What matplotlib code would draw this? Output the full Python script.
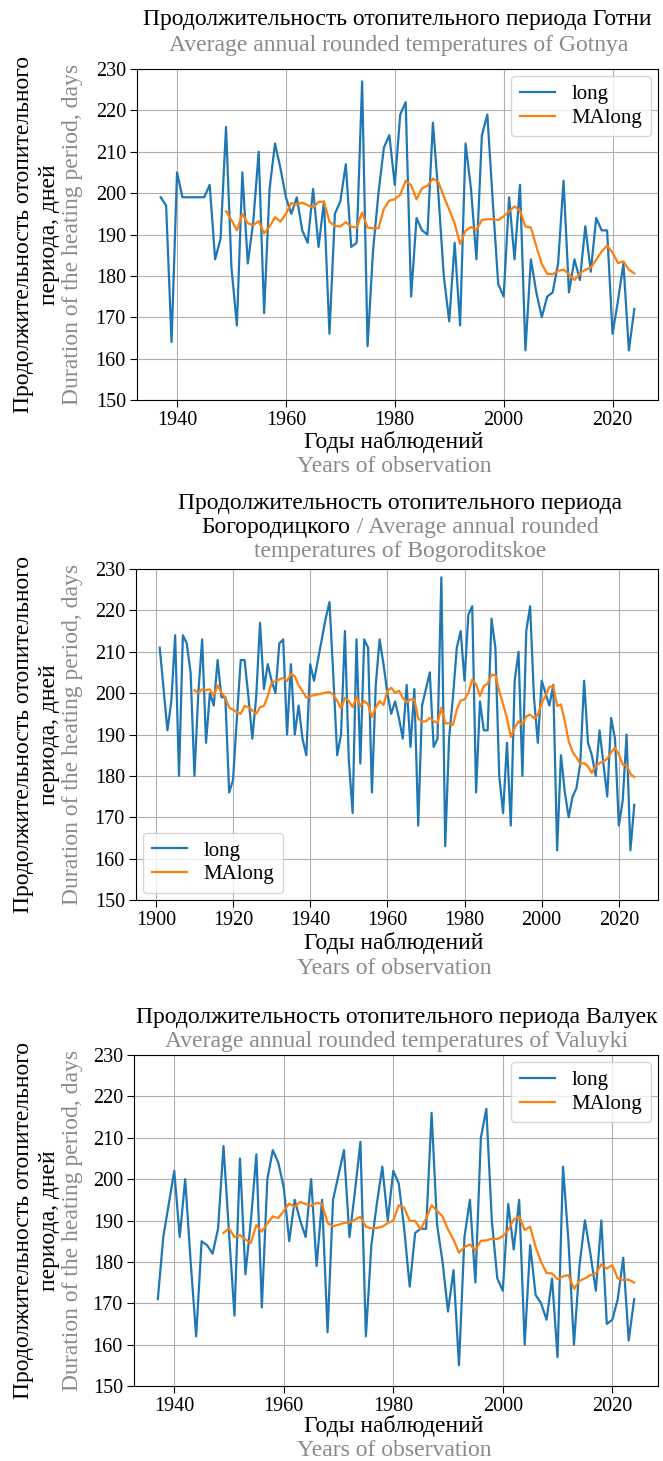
import numpy as np
import matplotlib
matplotlib.use("Agg")
from matplotlib import pyplot as plt
from matplotlib.transforms import IdentityTransform

W, H = 663, 1461
DPI = 100
GREY = "#8a8a8a"
BLUE = "#1f77b4"
ORANGE = "#ff7f0e"

# ---- data ----
GOTNYA_START = 1937
GOTNYA_LONG = [199, 197, 164, 205, 199, 199, 199, 199, 199, 202,
               184, 189, 216, 182, 168, 205, 183, 193, 210, 171,
               201, 212, 206, 199, 195, 199, 191, 188, 201, 187,
               198, 166, 195, 198, 207, 187, 188, 227, 163, 186,
               200, 211, 214, 202, 219, 222, 175, 194, 191, 190,
               217, 200, 180, 169, 188, 168, 212, 201, 184, 214,
               219, 198, 178, 175, 199, 184, 202, 162, 184, 176,
               170, 175, 176, 183, 203, 176, 184, 179, 192, 181,
               194, 191, 191, 166, 174, 183, 162, 172]
GOTNYA_MA_START = 1949
GOTNYA_MA = [195.6, 193.5, 191.0, 195.0, 192.7, 192.3, 193.2, 190.3, 191.9, 194.2,
             193.1, 195.0, 197.6, 197.2, 197.7, 197.1, 196.5, 197.9, 197.9, 193.1,
             192.1, 191.9, 193.0, 191.9, 191.7, 195.3, 191.7, 191.5, 191.5, 196.2,
             198.2, 198.5, 199.6, 203.0, 201.9, 198.5, 201.2, 201.8, 203.5, 202.7,
             199.2, 196.0, 192.7, 187.7, 190.9, 191.8, 191.1, 193.5, 193.7, 193.7,
             193.5, 194.4, 195.6, 196.8, 195.7, 191.9, 191.7, 187.1, 182.9, 180.5,
             180.4, 181.2, 181.5, 180.4, 179.0, 180.6, 181.5, 182.0, 183.9, 185.9,
             187.3, 185.6, 183.1, 183.5, 181.5, 180.6]

BOGO_START = 1901
BOGO_LONG = [211, 201, 191, 198, 214, 180, 214, 212, 205, 180,
             200, 213, 188, 200, 197, 208, 199, 199, 176, 179,
             194, 208, 208, 199, 189, 199, 217, 201, 207, 203,
             200, 212, 213, 190, 207, 190, 197, 189, 185, 207,
             203, 208, 213, 218, 222, 204, 185, 190, 215, 184,
             171, 213, 183, 213, 211, 176, 202, 213, 207, 200,
             195, 198, 194, 189, 202, 187, 201, 168, 197, 201,
             205, 187, 189, 228, 163, 189, 199, 211, 215, 203,
             219, 221, 176, 198, 191, 191, 218, 211, 180, 171,
             188, 168, 203, 210, 180, 215, 221, 199, 188, 203,
             200, 197, 202, 162, 185, 176, 170, 175, 177, 183,
             203, 188, 185, 180, 191, 183, 175, 194, 189, 168,
             174, 190, 162, 173]
BOGO_MA_START = 1910
BOGO_MA = [200.7, 200.1, 200.9, 200.7, 200.9, 199.3, 201.9, 200.1, 198.9, 196.5,
           196.0, 195.4, 195.0, 196.9, 196.6, 195.8, 195.0, 196.6, 196.9, 199.3,
           202.5, 202.9, 203.3, 203.7, 202.9, 204.7, 204.1, 201.9, 200.5, 198.9,
           199.3, 199.5, 199.7, 199.9, 200.1, 200.3, 199.6, 198.1, 196.3, 198.9,
           198.1, 196.6, 199.1, 196.9, 198.1, 197.3, 194.2, 196.5, 198.1, 197.1,
           200.5, 201.3, 200.1, 200.6, 198.9, 197.8, 198.5, 198.5, 193.9, 193.1,
           193.2, 194.0, 193.2, 192.8, 196.5, 192.7, 192.7, 192.3, 196.0, 198.2,
           198.5, 200.1, 203.3, 202.1, 199.3, 201.7, 202.3, 204.4, 204.4, 200.5,
           197.3, 194.0, 189.4, 191.6, 193.2, 192.3, 194.4, 194.8, 193.9, 194.7,
           197.7, 199.3, 201.5, 201.7, 196.9, 197.3, 193.2, 188.4, 185.8, 184.5,
           182.9, 183.1, 182.3, 180.7, 182.3, 183.1, 183.5, 184.1, 185.7, 186.8,
           185.2, 182.7, 182.7, 180.5, 179.7]

VALUYKI_START = 1937
VALUYKI_LONG = [171, 186, 194, 202, 186, 200, 180, 162, 185, 184,
                182, 188, 208, 187, 167, 205, 177, 190, 206, 169,
                200, 207, 204, 198, 185, 195, 190, 186, 200, 179,
                195, 163, 195, 201, 207, 186, 197, 209, 162, 184,
                194, 203, 190, 202, 199, 188, 174, 187, 188, 188,
                216, 189, 180, 168, 178, 155, 186, 195, 175, 210,
                217, 190, 176, 173, 194, 183, 195, 160, 184, 172,
                170, 166, 176, 157, 203, 185, 160, 179, 190, 182,
                173, 190, 165, 166, 171, 181, 161, 171]
VALUYKI_MA_START = 1949
VALUYKI_MA = [187.0, 188.1, 186.0, 186.5, 185.4, 184.6, 188.9, 187.3, 189.3, 191.0,
              190.6, 192.3, 194.1, 193.3, 194.5, 194.0, 193.5, 194.3, 194.0, 189.4,
              188.6, 189.0, 189.4, 189.5, 190.2, 190.9, 188.5, 188.1, 188.2, 188.5,
              189.4, 190.0, 193.7, 193.1, 189.9, 189.9, 187.9, 190.5, 193.7, 192.3,
              191.0, 187.8, 185.4, 182.2, 183.6, 184.2, 182.8, 185.1, 185.2, 185.6,
              185.5, 186.2, 187.7, 190.2, 191.0, 187.7, 188.5, 183.6, 180.0, 177.3,
              177.2, 175.8, 176.5, 176.8, 173.5, 175.4, 176.0, 176.8, 177.2, 179.4,
              178.4, 179.2, 176.0, 175.6, 175.7, 175.0]

Y_TICKS = [150, 160, 170, 180, 190, 200, 210, 220, 230]

YLABEL_RU = ["Продолжительность отопительного", "периода, дней"]
YLABEL_EN = "Duration of the heating period, days"
XLABEL_RU = "Годы наблюдений"
XLABEL_EN = "Years of observation"

TITLE_FS = 17
LABEL_FS = 17
TICK_FS = 14.5
LEGEND_FS = 15

plt.rcParams["font.family"] = ["Liberation Serif", "DejaVu Serif"]
plt.rcParams["axes.grid"] = True

fig = plt.figure(figsize=(W / DPI, H / DPI), dpi=DPI)


def px(x, y):
    # pixel position (from the top left) -> figure fraction
    return x / W, 1 - y / H


def ftext(x, y, s, color="black", size=LABEL_FS, rot=0):
    fx, fy = px(x, y)
    return fig.text(fx, fy, s, color=color, fontsize=size, rotation=rot,
                    ha="center", va="center")


def mixed_line(xc, y, parts, size=TITLE_FS):
    # one centred line made of pieces of different colour
    renderer = fig.canvas.get_renderer()
    texts = []
    for s, c in parts:
        t = fig.text(0, 0, s, color=c, fontsize=size, ha="left", va="center",
                     transform=IdentityTransform())
        texts.append(t)
    widths = [t.get_window_extent(renderer).width for t in texts]
    x = xc - sum(widths) / 2
    for t, w in zip(texts, widths):
        t.set_position((x, H - y))
        x += w


def make_axes(top, bottom, left=137, right=658):
    fx, fy = px(left, bottom)
    ax = fig.add_axes([fx, fy, (right - left) / W, (bottom - top) / H])
    ax.tick_params(labelsize=TICK_FS, length=5, pad=3)
    return ax


def draw_panel(ax, start, long_vals, ma_start, ma_vals, legend_loc):
    years = np.arange(start, start + len(long_vals))
    ma_years = np.arange(ma_start, ma_start + len(ma_vals))
    ax.plot(years, long_vals, color=BLUE, lw=1.6, label="long")
    ax.plot(ma_years, ma_vals, color=ORANGE, lw=1.6, label="MAlong")
    ax.set_ylim(150, 230)
    ax.set_yticks(Y_TICKS)
    ax.legend(loc=legend_loc, fontsize=LEGEND_FS, handlelength=1.7,
              labelspacing=0.2, borderaxespad=0.35)


def labels(top, bottom, xlab_y):
    yc = (top + bottom) / 2
    ftext(24, yc, YLABEL_RU[0], rot=90)
    ftext(49, yc, YLABEL_RU[1], rot=90)
    ftext(73, yc, YLABEL_EN, color=GREY, rot=90)
    ftext(394, xlab_y, XLABEL_RU)
    ftext(394, xlab_y + 25, XLABEL_EN, color=GREY)


def main():
    # panel 1 - Gotnya
    ax1 = make_axes(69, 400)
    draw_panel(ax1, GOTNYA_START, GOTNYA_LONG, GOTNYA_MA_START, GOTNYA_MA, "upper right")
    ftext(397, 20, "Продолжительность отопительного периода Готни", size=TITLE_FS)
    ftext(399, 45, "Average annual rounded temperatures of Gotnya", color=GREY, size=TITLE_FS)
    labels(69, 400, 442)

    # panel 2 - Bogoroditskoe
    ax2 = make_axes(569, 900, left=136)
    draw_panel(ax2, BOGO_START, BOGO_LONG, BOGO_MA_START, BOGO_MA, "lower left")
    ftext(400, 503, "Продолжительность отопительного периода", size=TITLE_FS)
    mixed_line(400, 527, [("Богородицкого", "black"), (" / Average annual rounded", GREY)])
    ftext(400, 551, "temperatures of Bogoroditskoe", color=GREY, size=TITLE_FS)
    labels(569, 900, 943)

    # panel 3 - Valuyki
    ax3 = make_axes(1055, 1386, left=134)
    draw_panel(ax3, VALUYKI_START, VALUYKI_LONG, VALUYKI_MA_START, VALUYKI_MA, "upper right")
    ftext(397, 1017, "Продолжительность отопительного периода Валуек", size=TITLE_FS)
    ftext(397, 1041, "Average annual rounded temperatures of Valuyki", color=GREY, size=TITLE_FS)
    labels(1055, 1386, 1426)

    fig.savefig("out.png", dpi=DPI)


if __name__ == "__main__":
    main()
